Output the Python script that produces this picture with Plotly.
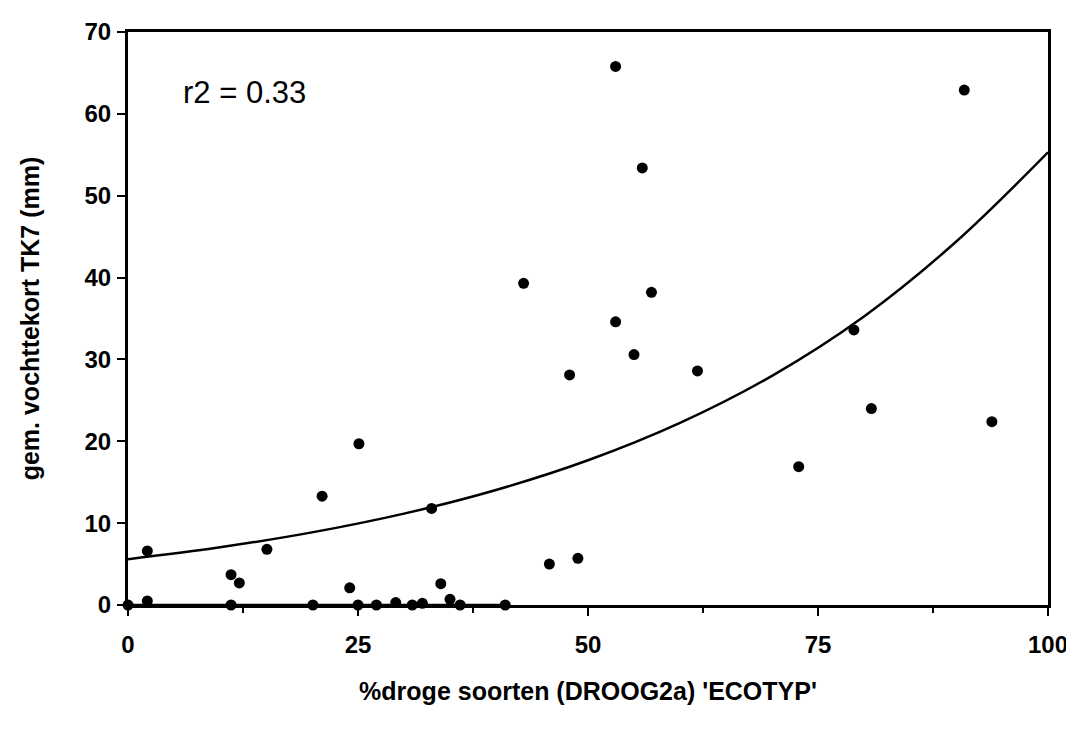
import plotly.graph_objects as go

# scatter data
pct_droog = [0, 2.1, 2.1, 11.2, 12.1, 11.2, 15.1, 20.1, 21.1, 24.1, 25.0, 25.1, 27.0, 29.1,
             30.9, 32.0, 33.0, 34.0, 35.0, 36.1, 41.0, 43.0, 45.8, 48.0, 48.9, 53.0, 53.0,
             55.0, 55.9, 56.9, 61.9, 72.9, 78.9, 80.8, 90.9, 93.9]
vochttekort = [0, 6.6, 0.5, 3.7, 2.7, 0, 6.8, 0, 13.3, 2.1, 0, 19.7, 0, 0.3,
               0, 0.2, 11.8, 2.6, 0.7, 0, 0, 39.3, 5.0, 28.1, 5.7, 65.8, 34.6,
               30.6, 53.4, 38.2, 28.6, 16.9, 33.6, 24.0, 62.9, 22.4]

# fitted curve
fit_x = [0, 10, 20, 30, 40, 50, 60, 70, 80, 90, 100]
fit_y = [5.6, 7.05, 8.87, 11.16, 14.05, 17.68, 22.25, 28.0, 35.25, 44.37, 55.3]

# zero segment
zero_x = [0, 41]
zero_y = [0, 0]

x_ticks = [0, 25, 50, 75, 100]
y_ticks = [0, 10, 20, 30, 40, 50, 60, 70]

fig = go.Figure()
fig.add_trace(go.Scatter(x=zero_x, y=zero_y, mode="lines",
                         line=dict(color="black", width=2.5), hoverinfo="skip"))
fig.add_trace(go.Scatter(x=fit_x, y=fit_y, mode="lines", line_shape="spline",
                         line=dict(color="black", width=2.5), hoverinfo="skip"))
fig.add_trace(go.Scatter(x=pct_droog, y=vochttekort, mode="markers",
                         marker=dict(color="black", size=11), cliponaxis=False))

font_family = "Liberation Sans, Arial, sans-serif"
fig.update_layout(
    width=1074, height=733,
    margin=dict(l=120, r=34, t=10, b=136),
    plot_bgcolor="white", paper_bgcolor="white",
    showlegend=False,
    font=dict(family=font_family, color="black"),
    xaxis=dict(
        range=[0, 100], tickvals=x_ticks, ticktext=[str(v) for v in x_ticks],
        showgrid=False, zeroline=False, showline=True, linecolor="black", linewidth=3,
        mirror=True, ticks="outside", ticklen=8, tickwidth=2, tickcolor="black",
        tickfont=dict(size=24, weight="bold"), ticklabelstandoff=8,
        ticklabeloverflow="allow",
        minor=dict(tickvals=[12.5, 37.5, 62.5, 87.5], ticks="outside", ticklen=5,
                   tickwidth=1.5, tickcolor="black"),
        title=dict(text="%droge soorten (DROOG2a) 'ECOTYP'",
                   font=dict(size=25, weight="bold"), standoff=26),
    ),
    yaxis=dict(
        range=[0, 70], tickvals=y_ticks, ticktext=[str(v) for v in y_ticks],
        showgrid=False, zeroline=False, showline=True, linecolor="black", linewidth=3,
        mirror=True, ticks="outside", ticklen=8, tickwidth=2, tickcolor="black",
        tickfont=dict(size=24, weight="bold"), ticklabelstandoff=1,
        ticklabeloverflow="allow",
        title=dict(text="gem. vochttekort TK7 (mm)",
                   font=dict(size=25, weight="bold"), standoff=38),
    ),
    annotations=[dict(x=5.8, y=62.6, xref="x", yref="y", text="r2 = 0.33",
                      showarrow=False, xanchor="left", yanchor="middle",
                      font=dict(size=31, family=font_family, color="black"))],
)

fig.write_html("out.html")
